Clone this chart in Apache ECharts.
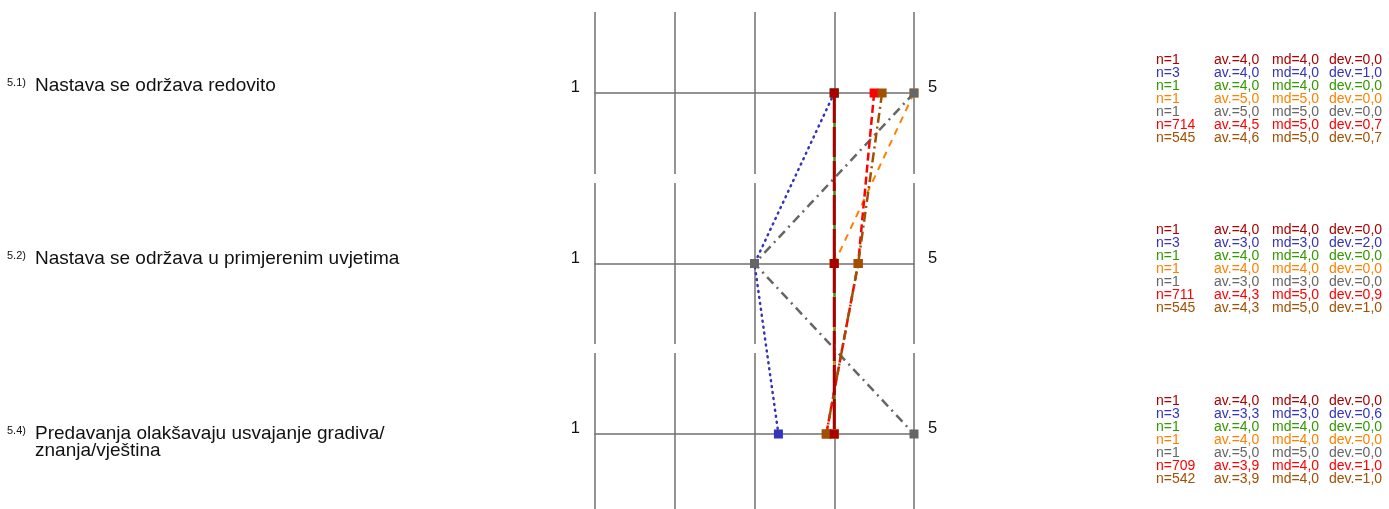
<!DOCTYPE html>
<html><head><meta charset="utf-8">
<script src="https://cdn.jsdelivr.net/npm/echarts@6/dist/echarts.min.js"></script>
<style>html,body{margin:0;padding:0;background:#fff}#c{width:1389px;height:509px}</style>
</head><body><div id="c"></div>
<script>
// ---- data ----
const questionNums = ['5.1)', '5.2)', '5.4)'];
const questionLines = [
  ['Nastava se održava redovito'],
  ['Nastava se održava u primjerenim uvjetima'],
  ['Predavanja olakšavaju usvajanje gradiva/', 'znanja/vještina']
];
const scaleMinLabel = '1';
const scaleMaxLabel = '5';
const scaleMin = 1;
const scaleMax = 5;

// per series (7 groups), values per question
const av0 = [4.0, 4.0, 4.0];
const av1 = [4.0, 3.0, 3.3];
const av2 = [4.0, 4.0, 4.0];
const av3 = [5.0, 4.0, 4.0];
const av4 = [5.0, 3.0, 5.0];
const av5 = [4.5, 4.3, 3.9];
const av6 = [4.6, 4.3, 3.9];

const n0 = [1, 1, 1];
const n1 = [3, 3, 3];
const n2 = [1, 1, 1];
const n3 = [1, 1, 1];
const n4 = [1, 1, 1];
const n5 = [714, 711, 709];
const n6 = [545, 545, 542];

const md0 = [4, 4, 4];
const md1 = [4, 3, 3];
const md2 = [4, 4, 4];
const md3 = [5, 4, 4];
const md4 = [5, 3, 5];
const md5 = [5, 5, 4];
const md6 = [5, 5, 4];

const dev0 = [0.0, 0.0, 0.0];
const dev1 = [1.0, 2.0, 0.6];
const dev2 = [0.0, 0.0, 0.0];
const dev3 = [0.0, 0.0, 0.0];
const dev4 = [0.0, 0.0, 0.0];
const dev5 = [0.7, 0.9, 1.0];
const dev6 = [0.7, 1.0, 1.0];

// ---- styles ----
const AV = [av0, av1, av2, av3, av4, av5, av6];
const N = [n0, n1, n2, n3, n4, n5, n6];
const MD = [md0, md1, md2, md3, md4, md5, md6];
const DEV = [dev0, dev1, dev2, dev3, dev4, dev5, dev6];
const colors = ['#aa0000', '#3333bb', '#339900', '#ff8000', '#666666', '#ff0000', '#a05000'];
const dashes = [[30, 4], [1, 5], 'solid', [7, 6], [9, 5, 2, 5], [8, 4], [10, 4, 2, 4]];
const widths = [3, 2.5, 2, 2, 2.5, 2.5, 2.5];
const caps = ['butt', 'round', 'butt', 'butt', 'butt', 'butt', 'butt'];
const zs = [9, 2, 2, 2, 3, 4, 5];
const drawOrder = [1, 2, 3, 4, 5, 6, 0];
const FONT = '"Liberation Sans", Arial, sans-serif';
const GRID_COLOR = '#707070';
const leftPads = [[0, 0, 14, 0], [0, 0, 10, 0], [16, 0, 0, 0]];
const rowBands = [[12, 174], [183, 344], [353, 515]];
const plotLeft = 595, plotRight = 1389 - 914;
const STAT_FS = 14, STAT_LH = 13;

const fmt = v => v.toFixed(1).replace('.', ',');

const chart = echarts.init(document.getElementById('c'), null, {renderer: 'canvas'});

const grids = [{left: plotLeft, right: plotRight, top: 93, bottom: 509 - 434, containLabel: false, outerBoundsMode: 'none'}];
rowBands.forEach(b => grids.push({left: plotLeft, right: plotRight, top: b[0], bottom: 509 - b[1], containLabel: false, outerBoundsMode: 'none'}));

const xAxes = [{gridIndex: 0, type: 'value', min: scaleMin, max: scaleMax, show: false}];
const yAxes = [];
const cats = questionNums.map((q, i) => String(i));

const statRich = {};
colors.forEach((c, s) => {
  const base = {color: c, fontSize: STAT_FS, lineHeight: STAT_LH, fontFamily: FONT};
  statRich['n' + s] = Object.assign({width: 58}, base);
  statRich['a' + s] = Object.assign({width: 58}, base);
  statRich['m' + s] = Object.assign({width: 57}, base);
  statRich['d' + s] = Object.assign({}, base);
});

// main left axis: question labels
yAxes.push({
  gridIndex: 0, type: 'category', inverse: true, boundaryGap: false, position: 'left',
  data: cats.map((c, i) => ({value: c, textStyle: {align: 'left', padding: leftPads[i]}})),
  axisLine: {show: false}, axisTick: {show: false}, splitLine: {show: false},
  axisLabel: {
    interval: 0, margin: plotLeft - 7, align: 'left',
    formatter: (v, idx) => {
      let s = '{n|' + questionNums[idx] + '}{t|' + questionLines[idx][0] + '}';
      for (let k = 1; k < questionLines[idx].length; k++) s += '\n{s| }{t|' + questionLines[idx][k] + '}';
      return s;
    },
    rich: {
      n: {fontSize: 11, width: 28, color: '#111', verticalAlign: 'top', lineHeight: 13, fontFamily: FONT},
      s: {fontSize: 11, width: 28, fontFamily: FONT},
      t: {fontSize: 19, color: '#111', lineHeight: 17, fontFamily: FONT}
    }
  }
});
// main right axis: statistics
yAxes.push({
  gridIndex: 0, type: 'category', inverse: true, boundaryGap: false, position: 'right',
  data: cats,
  axisLine: {show: false}, axisTick: {show: false}, splitLine: {show: false},
  axisLabel: {
    interval: 0, margin: 1156 - 914, align: 'left', padding: [12, 0, 0, 0],
    formatter: (v, idx) => colors.map((c, s) =>
      '{n' + s + '|n=' + N[s][idx] + '}{a' + s + '|av.=' + fmt(AV[s][idx]) + '}{m' + s + '|md=' + fmt(MD[s][idx]) + '}{d' + s + '|dev.=' + fmt(DEV[s][idx]) + '}'
    ).join('\n'),
    rich: statRich
  }
});

rowBands.forEach((b, r) => {
  const g = r + 1;
  xAxes.push({
    gridIndex: g, type: 'value', min: scaleMin, max: scaleMax, interval: 1,
    axisLine: {show: true, onZero: true, lineStyle: {color: GRID_COLOR, width: 1.5}},
    axisTick: {show: false}, axisLabel: {show: false},
    splitLine: {show: true, lineStyle: {color: GRID_COLOR, width: 1.5}}
  });
  const lab = (txt) => ({show: true, fontSize: 16.5, color: '#111', fontFamily: FONT,
    verticalAlign: 'bottom', lineHeight: 11, formatter: v => v === 0 ? txt : ''});
  yAxes.push({gridIndex: g, type: 'value', min: -1, max: 1, interval: 1, position: 'left',
    axisLine: {show: false}, axisTick: {show: false}, splitLine: {show: false},
    axisLabel: Object.assign(lab(scaleMinLabel), {margin: 15})});
  yAxes.push({gridIndex: g, type: 'value', min: -1, max: 1, interval: 1, position: 'right',
    axisLine: {show: false}, axisTick: {show: false}, splitLine: {show: false},
    axisLabel: Object.assign(lab(scaleMaxLabel), {margin: 14})});
});

const series = drawOrder.map(s => ({
  type: 'line', xAxisIndex: 0, yAxisIndex: 0, z: zs[s],
  data: AV[s].map((v, i) => [v, i]),
  symbol: 'rect', symbolSize: 9, showSymbol: true,
  itemStyle: {color: colors[s]},
  lineStyle: {color: colors[s], width: widths[s], type: dashes[s], cap: caps[s]},
  animation: false, silent: true
}));

chart.setOption({
  animation: false,
  backgroundColor: '#fff',
  grid: grids,
  xAxis: xAxes,
  yAxis: yAxes,
  series: series
});
</script>
</body></html>
